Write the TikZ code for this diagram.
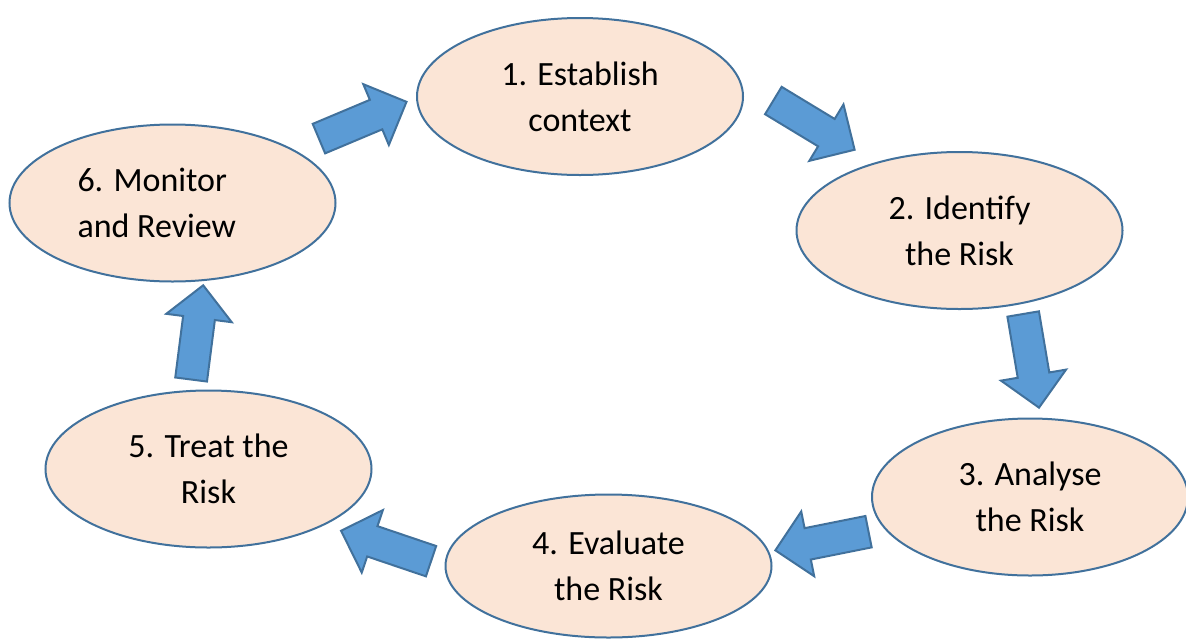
\documentclass[tikz,border=0pt]{standalone}
\usepackage{fontspec}
\setmainfont{Carlito}
\usetikzlibrary{shapes.geometric, shapes.arrows}

\definecolor{stepfill}{HTML}{FBE5D6}
\definecolor{stepline}{HTML}{41719C}
\definecolor{flowfill}{HTML}{5B9BD5}

\begin{document}
\begin{tikzpicture}[x=1pt, y=-1pt]
    \useasboundingbox (0,0) rectangle (1186,638);
    \begin{scope}[every node/.style={ellipse, draw=stepline, fill=stepfill, line width=2pt, minimum width=326pt, minimum height=157pt, inner sep=0pt, align=center, font=\fontsize{34}{46}\selectfont}]
        \node (E) at (580,96.5)   {1. Establish\\context};
        \node (I) at (959.5,230.5) {2. Identify\\the Risk};
        \node (A) [minimum width=316pt] at (1030,497) {3. Analyse\\the Risk};
        \node (V) [minimum height=143pt] at (608.5,566) {4. Evaluate\\the Risk};
        \node (T) at (208.5,469)  {5. Treat the\\Risk};
        \node (M) [align=flush left, text width=190pt] at (172.5,203) {6. Monitor\\and Review};
    \end{scope}

    \begin{scope}[every node/.style={single arrow, anchor=tail, draw=stepline, fill=flowfill, line width=2pt, minimum width=64pt, minimum height=95pt, single arrow head extend=17pt, inner xsep=0pt, inner ysep=15pt}]
        \node (EI) [rotate=-31.2] at (772.5,100)  {};
        \node (IA) [rotate=-80.4] at (1023,313)   {};
        \node (AV) [rotate=191.3] at (869.5,531.5) {};
        \node (VT) [rotate=161.3] at (432,561.5)  {};
        \node (TM) [rotate=82.7]  at (191,380.5)  {};
        \node (ME) [rotate=22.8]  at (318,139)    {};
    \end{scope}
\end{tikzpicture}
\end{document}
